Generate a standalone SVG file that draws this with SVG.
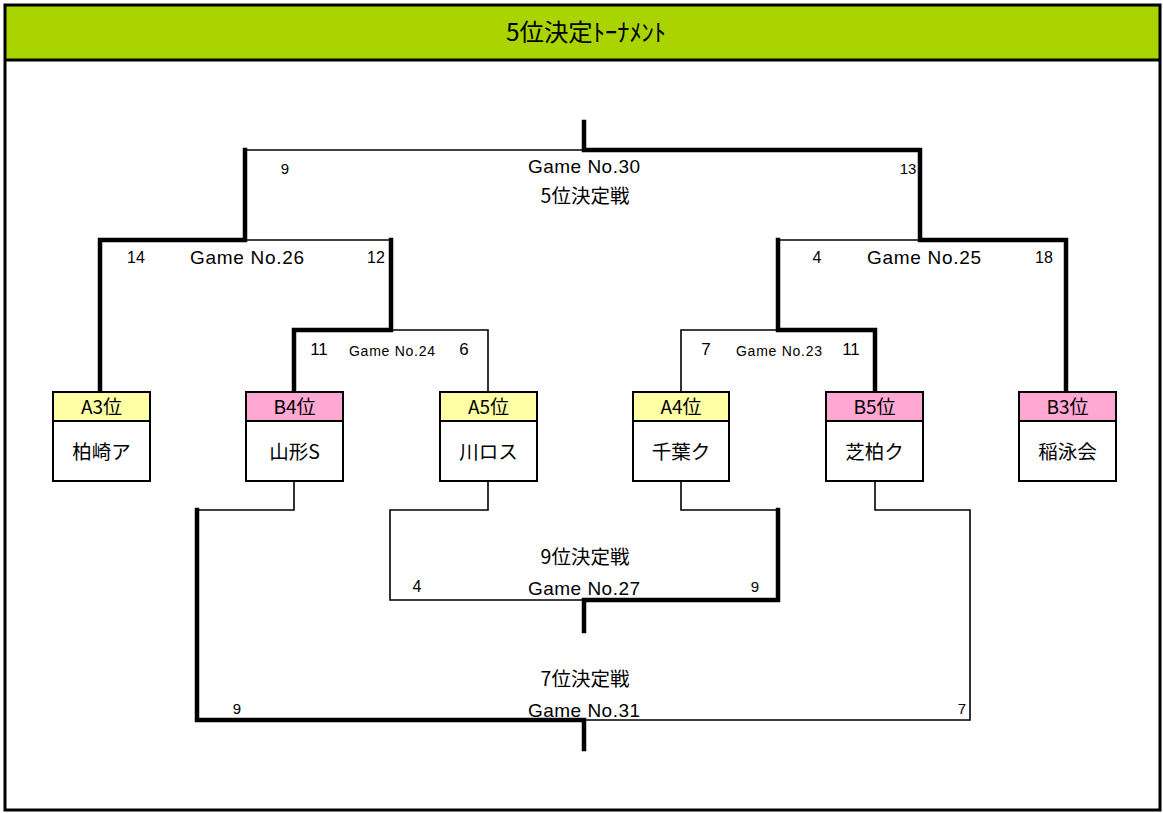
<svg xmlns="http://www.w3.org/2000/svg" width="1163" height="813" viewBox="0 0 1163 813">
<style>
.lat{font-family:"Liberation Sans","Noto Sans CJK JP",sans-serif;fill:#000}
.cjk{font-family:"Noto Sans CJK JP","Liberation Sans",sans-serif;fill:#000}
.thin{fill:none;stroke:#000;stroke-width:1.6}
.thick{fill:none;stroke:#000;stroke-width:4.5;stroke-linejoin:miter;stroke-linecap:square}
.box{fill:#fff;stroke:#000;stroke-width:2}
.ya{fill:#FFFFA6;stroke:#000;stroke-width:2}
.pk{fill:#FFA8D4;stroke:#000;stroke-width:2}
</style>
<rect x="0" y="0" width="1163" height="813" fill="#fff"/>
<g id="frame">
<rect x="5" y="5" width="1155" height="55" fill="#AAD400"/>
<rect x="5" y="5" width="1155" height="805" fill="none" stroke="#000" stroke-width="3"/>
<line x1="5" y1="60" x2="1160" y2="60" stroke="#000" stroke-width="3"/>
<text class="cjk" x="586" y="41" font-size="24" text-anchor="middle" textLength="160" lengthAdjust="spacingAndGlyphs">5位決定ﾄｰﾅﾒﾝﾄ</text>
</g>
<g id="connectors">
<path class="thin" d="M245,150 H584"/>
<path class="thin" d="M245,240 H391"/>
<path class="thin" d="M391,330 H488 V392"/>
<path class="thin" d="M681,392 V330 H778"/>
<path class="thin" d="M778,240 H920"/>
<path class="thin" d="M294,481 V510 H197"/>
<path class="thin" d="M488,481 V510 H390 V600 H584"/>
<path class="thin" d="M681,481 V510 H778"/>
<path class="thin" d="M875,481 V510 H970 V720 H584"/>
<path class="thick" d="M100,392 V240 H245 V150"/>
<path class="thick" d="M294,392 V330 H391 V240"/>
<path class="thick" d="M875,392 V330 H778 V240"/>
<path class="thick" d="M1066,392 V240 H920 V150 H584 V122"/>
<path class="thick" d="M197,510 V720 H584 V749"/>
<path class="thick" d="M778,510 V600 H584 V631"/>
</g>
<g id="labels">
<text class="lat" x="285" y="174" font-size="15" text-anchor="middle">9</text>
<text class="lat" x="584" y="173" font-size="19" text-anchor="middle" textLength="112">Game No.30</text>
<text class="lat" x="908" y="174" font-size="15" text-anchor="middle">13</text>
<text class="cjk" x="585" y="203" font-size="19.5" text-anchor="middle">5位決定戦</text>
<text class="lat" x="136" y="263" font-size="16" text-anchor="middle">14</text>
<text class="lat" x="247" y="264" font-size="19" text-anchor="middle" textLength="114">Game No.26</text>
<text class="lat" x="376" y="263" font-size="16" text-anchor="middle">12</text>
<text class="lat" x="817" y="263" font-size="16" text-anchor="middle">4</text>
<text class="lat" x="924" y="264" font-size="19" text-anchor="middle" textLength="114">Game No.25</text>
<text class="lat" x="1044" y="263" font-size="16" text-anchor="middle">18</text>
<text class="lat" x="319" y="355" font-size="17" text-anchor="middle">11</text>
<text class="lat" x="392" y="356" font-size="14" text-anchor="middle" textLength="86">Game No.24</text>
<text class="lat" x="464" y="355" font-size="17" text-anchor="middle">6</text>
<text class="lat" x="706" y="355" font-size="17" text-anchor="middle">7</text>
<text class="lat" x="779" y="356" font-size="14" text-anchor="middle" textLength="86">Game No.23</text>
<text class="lat" x="851" y="355" font-size="17" text-anchor="middle">11</text>
<text class="cjk" x="585" y="564" font-size="19.5" text-anchor="middle">9位決定戦</text>
<text class="lat" x="417" y="592" font-size="16" text-anchor="middle">4</text>
<text class="lat" x="584" y="595" font-size="19" text-anchor="middle" textLength="112">Game No.27</text>
<text class="lat" x="755" y="592" font-size="15" text-anchor="middle">9</text>
<text class="cjk" x="585" y="686" font-size="19.5" text-anchor="middle">7位決定戦</text>
<text class="lat" x="237" y="714" font-size="15" text-anchor="middle">9</text>
<text class="lat" x="584" y="717" font-size="19" text-anchor="middle" textLength="112">Game No.31</text>
<text class="lat" x="962" y="714" font-size="15" text-anchor="middle">7</text>
</g>
<g id="node-kashiwazaki">
<rect class="ya" x="53" y="392" width="97" height="29"/>
<rect class="box" x="53" y="421" width="97" height="60"/>
<text class="cjk" x="101.5" y="414" font-size="19" text-anchor="middle">A3位</text>
<text class="cjk" x="101.5" y="459" font-size="19.5" text-anchor="middle">柏崎ア</text>
</g>
<g id="node-yamagata">
<rect class="pk" x="246" y="392" width="97" height="29"/>
<rect class="box" x="246" y="421" width="97" height="60"/>
<text class="cjk" x="294.5" y="414" font-size="19" text-anchor="middle">B4位</text>
<text class="cjk" x="294.5" y="459" font-size="19.5" text-anchor="middle">山形S</text>
</g>
<g id="node-kawaros">
<rect class="ya" x="440" y="392" width="97" height="29"/>
<rect class="box" x="440" y="421" width="97" height="60"/>
<text class="cjk" x="488.5" y="414" font-size="19" text-anchor="middle">A5位</text>
<text class="cjk" x="488.5" y="459" font-size="19.5" text-anchor="middle">川ロス</text>
</g>
<g id="node-chiba">
<rect class="ya" x="633" y="392" width="96" height="29"/>
<rect class="box" x="633" y="421" width="96" height="60"/>
<text class="cjk" x="681" y="414" font-size="19" text-anchor="middle">A4位</text>
<text class="cjk" x="681" y="459" font-size="19.5" text-anchor="middle">千葉ク</text>
</g>
<g id="node-shibakashiwa">
<rect class="pk" x="826" y="392" width="97" height="29"/>
<rect class="box" x="826" y="421" width="97" height="60"/>
<text class="cjk" x="874.5" y="414" font-size="19" text-anchor="middle">B5位</text>
<text class="cjk" x="874.5" y="459" font-size="19.5" text-anchor="middle">芝柏ク</text>
</g>
<g id="node-inaei">
<rect class="pk" x="1019" y="392" width="97" height="29"/>
<rect class="box" x="1019" y="421" width="97" height="60"/>
<text class="cjk" x="1067.5" y="414" font-size="19" text-anchor="middle">B3位</text>
<text class="cjk" x="1067.5" y="459" font-size="19.5" text-anchor="middle">稲泳会</text>
</g>
</svg>
